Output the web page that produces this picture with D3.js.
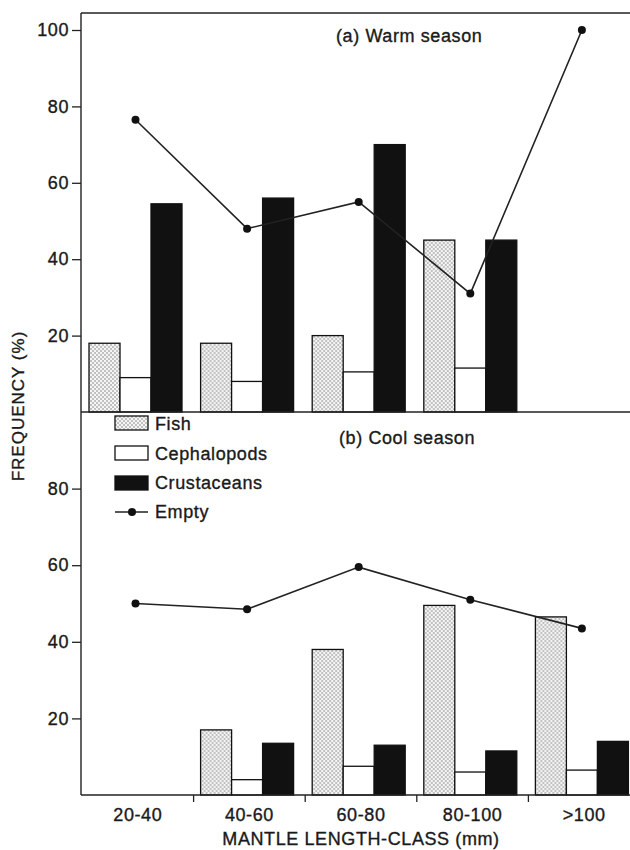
<!DOCTYPE html>
<html>
<head>
<meta charset="utf-8">
<script src="https://cdn.jsdelivr.net/npm/d3@7"></script>
<style>
  body { margin: 0; background: #fff; }
  text { font-family: "Liberation Sans", Arial, sans-serif; fill: #1a1a1a; stroke: #1a1a1a; stroke-width: 0.35; }
</style>
</head>
<body>
<div id="chart"></div>
<script>
const WIDTH = 630, HEIGHT = 850;

const classes = ['20-40', '40-60', '60-80', '80-100', '>100'];
const seriesNames = ['Fish', 'Cephalopods', 'Crustaceans'];

// (a) warm season, % frequency
const warmFish = [18, 18, 20, 45, null];
const warmCeph = [9, 8, 10.5, 11.5, null];
const warmCrust = [54.5, 56, 70, 45, null];
const warmEmpty = [76.5, 48, 55, 31, 100];

// (b) cool season
const coolFish = [null, 17, 38, 49.5, 46.5];
const coolCeph = [null, 4, 7.5, 6, 6.5];
const coolCrust = [null, 13.5, 13, 11.5, 14];
const coolEmpty = [50, 48.5, 59.5, 51, 43.5];

const warmTicks = [20, 40, 60, 80, 100];
const coolTicks = [20, 40, 60, 80];

const AXIS_X = 81;
const TOP_Y = 13, MID_Y = 412, BOTTOM_Y = 795;

const svg = d3.select('#chart')
  .append('svg')
  .attr('width', WIDTH)
  .attr('height', HEIGHT);

// stipple pattern for fish
const pat = svg.append('defs')
  .append('pattern')
    .attr('id', 'stipple')
    .attr('patternUnits', 'userSpaceOnUse')
    .attr('width', 4)
    .attr('height', 4);
pat.append('rect').attr('width', 4).attr('height', 4).attr('fill', '#f5f5f5');
pat.append('circle').attr('cx', 1).attr('cy', 1).attr('r', 0.7).attr('fill', '#666');
pat.append('circle').attr('cx', 3).attr('cy', 3).attr('r', 0.7).attr('fill', '#666');

const fills = { Fish: 'url(#stipple)', Cephalopods: '#fff', Crustaceans: '#111' };

const x = d3.scaleBand()
  .domain(classes)
  .range([AXIS_X + 1, AXIS_X + 1 + 5 * 111.6]);

const xSub = d3.scaleBand()
  .domain(seriesNames)
  .range([7, 100]);

const yWarm = d3.scaleLinear().domain([0, 100]).range([MID_Y, 30]);
const yCool = d3.scaleLinear().domain([0, 100]).range([BOTTOM_Y, MID_Y]);

function drawPanel(g, y, fish, ceph, crust, empty, ticks) {
  const rows = classes.map((c, i) => ({
    cls: c,
    vals: [
      { key: 'Fish', v: fish[i] },
      { key: 'Cephalopods', v: ceph[i] },
      { key: 'Crustaceans', v: crust[i] }
    ]
  }));

  g.selectAll('g.group')
    .data(rows)
    .join('g')
      .attr('class', 'group')
      .attr('transform', d => `translate(${x(d.cls)},0)`)
    .selectAll('rect')
    .data(d => d.vals.filter(s => s.v != null))
    .join('rect')
      .attr('x', d => xSub(d.key))
      .attr('width', xSub.bandwidth())
      .attr('y', d => y(d.v))
      .attr('height', d => y(0) - y(d.v))
      .attr('fill', d => fills[d.key])
      .attr('stroke', '#111')
      .attr('stroke-width', 1.3);

  const px = (d, i) => x(classes[i]) + xSub('Cephalopods') + xSub.bandwidth() / 2;

  g.append('path')
    .datum(empty)
    .attr('fill', 'none')
    .attr('stroke', '#222')
    .attr('stroke-width', 1.6)
    .attr('d', d3.line().x(px).y(d => y(d)));

  g.selectAll('circle.empty')
    .data(empty)
    .join('circle')
      .attr('class', 'empty')
      .attr('cx', px)
      .attr('cy', d => y(d))
      .attr('r', 4)
      .attr('fill', '#111');

  const yAxis = g.append('g')
    .attr('transform', `translate(${AXIS_X},0)`)
    .call(d3.axisLeft(y).tickValues(ticks).tickSize(9).tickPadding(3));
  yAxis.select('.domain').remove();
  yAxis.selectAll('line').attr('stroke', '#222').attr('stroke-width', 1.3);
  yAxis.selectAll('text')
    .attr('font-size', 18)
    .attr('letter-spacing', 0.6)
    .attr('fill', '#1a1a1a');
}

const warm = svg.append('g');
drawPanel(warm, yWarm, warmFish, warmCeph, warmCrust, warmEmpty, warmTicks);
const cool = svg.append('g');
drawPanel(cool, yCool, coolFish, coolCeph, coolCrust, coolEmpty, coolTicks);

// frame lines
const frame = svg.append('g').attr('stroke', '#222').attr('stroke-width', 1.4);
frame.append('line').attr('x1', AXIS_X).attr('x2', WIDTH).attr('y1', TOP_Y).attr('y2', TOP_Y);
frame.append('line').attr('x1', AXIS_X).attr('x2', WIDTH).attr('y1', MID_Y).attr('y2', MID_Y);
frame.append('line').attr('x1', AXIS_X).attr('x2', AXIS_X).attr('y1', TOP_Y).attr('y2', BOTTOM_Y);

// bottom x-axis
const xAxisG = svg.append('g')
  .attr('transform', `translate(0,${BOTTOM_Y})`)
  .call(d3.axisBottom(x).tickSize(0).tickPadding(13));
xAxisG.select('.domain')
  .attr('d', `M${AXIS_X},0H${WIDTH}`)
  .attr('stroke', '#222')
  .attr('stroke-width', 1.4);
xAxisG.selectAll('text')
  .attr('font-size', 18)
  .attr('letter-spacing', 0.6)
  .attr('fill', '#1a1a1a');

// class boundary ticks
xAxisG.selectAll('line.bound')
  .data(classes.slice(1))
  .join('line')
    .attr('class', 'bound')
    .attr('x1', d => x(d))
    .attr('x2', d => x(d))
    .attr('y1', 0)
    .attr('y2', 7)
    .attr('stroke', '#222')
    .attr('stroke-width', 1.3);

// titles
svg.append('text')
  .attr('x', 336).attr('y', 42)
  .attr('font-size', 18).attr('letter-spacing', 0.6)
  .text('(a) Warm season');

svg.append('text')
  .attr('x', 339).attr('y', 444)
  .attr('font-size', 18).attr('letter-spacing', 0.6)
  .text('(b) Cool season');

svg.append('text')
  .attr('x', 361).attr('y', 845)
  .attr('text-anchor', 'middle')
  .attr('font-size', 18).attr('letter-spacing', 0.6)
  .text('MANTLE LENGTH-CLASS (mm)');

svg.append('text')
  .attr('transform', 'translate(24,406) rotate(-90)')
  .attr('text-anchor', 'middle')
  .attr('font-size', 17).attr('letter-spacing', 1)
  .text('FREQUENCY (%)');

// legend
const legend = svg.append('g').attr('transform', 'translate(115,0)');
const swatchY = [416, 446, 476];
const textY = [430, 460, 489, 518];

legend.selectAll('rect')
  .data(seriesNames)
  .join('rect')
    .attr('x', 0)
    .attr('y', (d, i) => swatchY[i])
    .attr('width', 33)
    .attr('height', 14)
    .attr('fill', d => fills[d])
    .attr('stroke', '#111')
    .attr('stroke-width', 1.3);

legend.append('line')
  .attr('x1', 0).attr('x2', 33)
  .attr('y1', 512).attr('y2', 512)
  .attr('stroke', '#222').attr('stroke-width', 1.6);
legend.append('circle')
  .attr('cx', 17).attr('cy', 512).attr('r', 4).attr('fill', '#111');

legend.selectAll('text')
  .data(seriesNames.concat(['Empty']))
  .join('text')
    .attr('x', 40)
    .attr('y', (d, i) => textY[i])
    .attr('font-size', 18)
    .attr('letter-spacing', 0.6)
    .text(d => d);
</script>
</body>
</html>
